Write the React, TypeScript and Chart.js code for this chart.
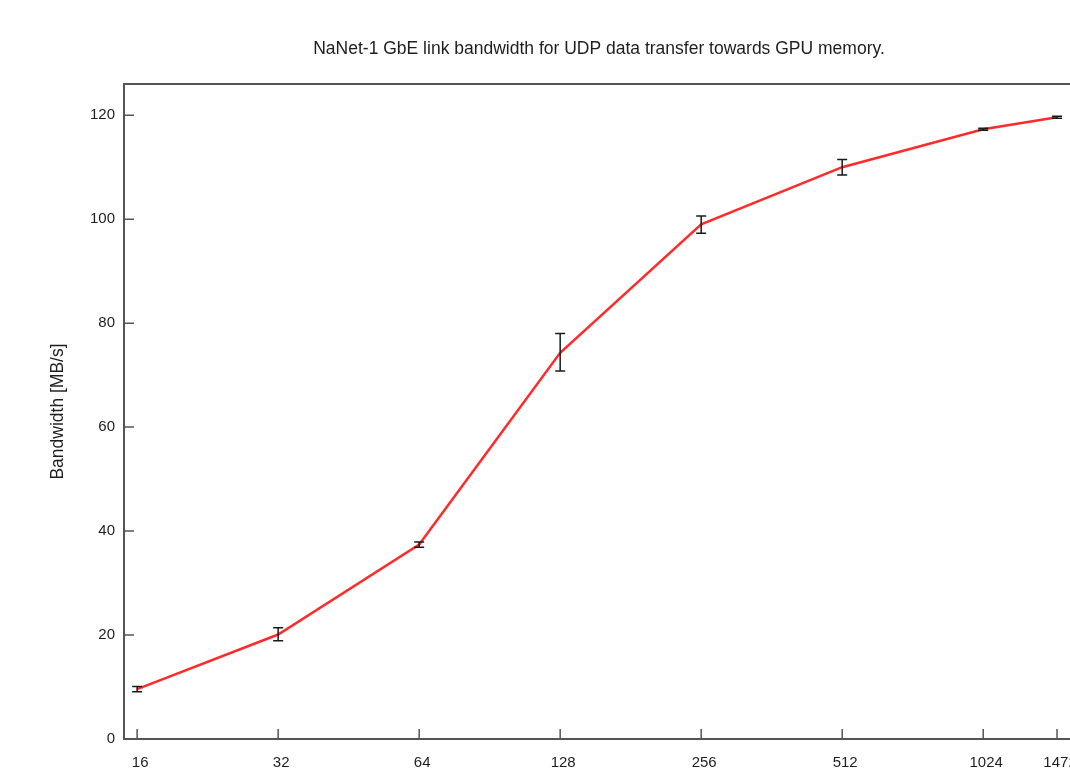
import { useEffect, useRef } from "react";
import { Chart, registerables } from "chart.js";

Chart.register(...registerables);

// Packet payload size (bytes) on a log2 axis
const packetSizes = [16, 32, 64, 128, 256, 512, 1024, 1472];
// Mean bandwidth [MB/s]
const bandwidth = [9.6, 20.1, 37.4, 74.3, 99.0, 110.0, 117.3, 119.6];
// Error bar extents [MB/s]
const errorLow = [9.1, 18.9, 36.9, 70.8, 97.3, 108.5, 117.1, 119.4];
const errorHigh = [10.1, 21.4, 37.9, 78.0, 100.6, 111.5, 117.5, 119.8];

const xTickValues = [16, 32, 64, 128, 256, 512, 1024, 1472];
const yTickValues = [0, 20, 40, 60, 80, 100, 120];

const titleText = "NaNet-1 GbE link bandwidth for UDP data transfer towards GPU memory.";
const yAxisTitle = "Bandwidth [MB/s]";

const FONT = "'Liberation Sans', Arial, Helvetica, sans-serif";
const TEXT_COLOR = "#1e1e1e";
const AXIS_COLOR = "#555555";

const framePlugin = {
  id: "frameAndTicks",
  afterDatasetsDraw(chart: any) {
    const { ctx, chartArea, scales } = chart;
    const xs = scales.x;
    const ys = scales.y;
    ctx.save();
    // error bars
    ctx.strokeStyle = "#1a1a1a";
    ctx.lineWidth = 1.5;
    for (let i = 0; i < packetSizes.length; i++) {
      const x = xs.getPixelForValue(packetSizes[i]);
      const yl = ys.getPixelForValue(errorLow[i]);
      const yh = ys.getPixelForValue(errorHigh[i]);
      ctx.beginPath();
      ctx.moveTo(x, yl);
      ctx.lineTo(x, yh);
      ctx.moveTo(x - 5, yl);
      ctx.lineTo(x + 5, yl);
      ctx.moveTo(x - 5, yh);
      ctx.lineTo(x + 5, yh);
      ctx.stroke();
    }
    // inner ticks
    ctx.strokeStyle = AXIS_COLOR;
    ctx.lineWidth = 1.5;
    ctx.beginPath();
    for (const v of xTickValues) {
      const x = xs.getPixelForValue(v);
      ctx.moveTo(x, chartArea.bottom);
      ctx.lineTo(x, chartArea.bottom - 10);
    }
    for (const v of yTickValues) {
      const y = ys.getPixelForValue(v);
      ctx.moveTo(chartArea.left, y);
      ctx.lineTo(chartArea.left + 10, y);
    }
    ctx.stroke();
    // frame
    ctx.lineWidth = 2;
    ctx.strokeRect(chartArea.left, chartArea.top, chartArea.right - chartArea.left, chartArea.bottom - chartArea.top);
    ctx.restore();
  },
};

export default function App() {
  const canvasRef = useRef<HTMLCanvasElement | null>(null);

  useEffect(() => {
    document.body.style.margin = "0";
    const canvas = canvasRef.current;
    if (!canvas) return;
    const chart = new Chart(canvas, {
      type: "line",
      data: {
        datasets: [
          {
            label: "bandwidth",
            data: packetSizes.map((s, i) => ({ x: s, y: bandwidth[i] })),
            borderColor: "#ff2b2b",
            backgroundColor: "#ff2b2b",
            borderWidth: 2.5,
            pointRadius: 0,
            tension: 0,
          },
        ],
      },
      options: {
        animation: false,
        responsive: false,
        maintainAspectRatio: false,
        layout: { padding: { top: 0, right: 26, bottom: 0, left: 0 } },
        plugins: {
          legend: { display: false },
          tooltip: { enabled: false },
          title: {
            display: true,
            text: titleText,
            fullSize: false,
            color: TEXT_COLOR,
            font: { family: FONT, size: 17.5, weight: "normal" },
            padding: { top: 39, bottom: 24 },
          },
        },
        scales: {
          x: {
            type: "logarithmic",
            min: 15,
            max: 1600,
            grid: { display: false, drawTicks: false },
            border: { display: false },
            afterBuildTicks: (scale: any) => {
              scale.ticks = xTickValues.map((v) => ({ value: v }));
            },
            afterFit: (scale: any) => {
              scale.height = 43;
            },
            ticks: {
              autoSkip: false,
              maxRotation: 0,
              minRotation: 0,
              padding: 15,
              labelOffset: 3,
              color: TEXT_COLOR,
              font: { family: FONT, size: 15 },
              callback: (v: any) => String(v),
            },
          },
          y: {
            type: "linear",
            min: 0,
            max: 126,
            grid: { display: false, drawTicks: false },
            border: { display: false },
            afterBuildTicks: (scale: any) => {
              scale.ticks = yTickValues.map((v) => ({ value: v }));
            },
            afterFit: (scale: any) => {
              scale.width = 124;
            },
            ticks: {
              padding: 9,
              color: TEXT_COLOR,
              font: { family: FONT, size: 15 },
              callback: (v: any) => String(v),
            },
            title: {
              display: true,
              text: yAxisTitle,
              color: TEXT_COLOR,
              font: { family: FONT, size: 17.5, weight: "normal" },
              padding: { top: 47.5, bottom: 0 },
            },
          },
        },
      },
      plugins: [framePlugin],
    });
    return () => chart.destroy();
  }, []);

  return (
    <div style={{ width: 1070, height: 782, overflow: "hidden", background: "#fff" }}>
      <canvas ref={canvasRef} width={1100} height={782} style={{ display: "block", width: 1100, height: 782 }} />
    </div>
  );
}
